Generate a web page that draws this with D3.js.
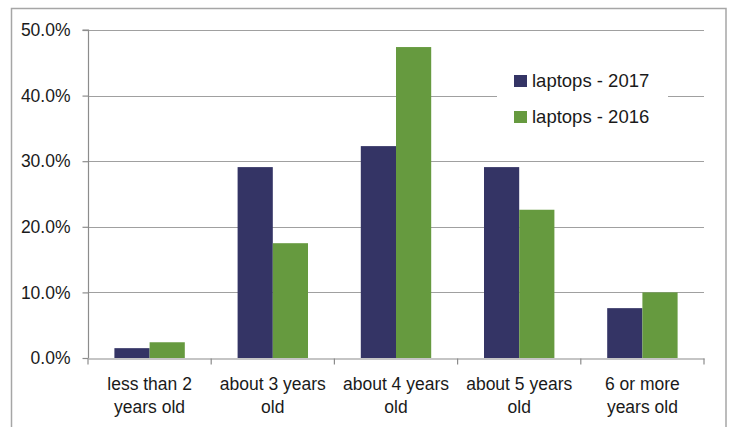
<!DOCTYPE html>
<html><head><meta charset="utf-8">
<script src="https://cdn.jsdelivr.net/npm/d3@7"></script>
<style>body{margin:0;background:#fff;}svg{display:block;}</style>
</head><body>
<script>
const categories = [["less than 2","years old"],["about 3 years","old"],["about 4 years","old"],["about 5 years","old"],["6 or more","years old"]];
const categoryKeys = ["lt2","y3","y4","y5","y6"];
const seriesNames = ["laptops - 2017","laptops - 2016"];
const values2017 = [0.015, 0.291, 0.323, 0.291, 0.076];
const values2016 = [0.024, 0.175, 0.474, 0.226, 0.100];
const colors = ["#343465", "#669a3f"];
const yTicks = [0, 0.1, 0.2, 0.3, 0.4, 0.5];

(function () {
const W = 732, H = 427;
const svg = d3.select("body").append("svg").attr("width", W).attr("height", H);
const font = "Liberation Sans, Arial, sans-serif";

// outer chart border
svg.append("rect").attr("x", 11.5).attr("y", 8.5).attr("width", 714.5).attr("height", 440)
  .attr("fill", "none").attr("stroke", "#a6a6a6").attr("stroke-width", 1.5);

const pLeft = 88, pRight = 704, pTop = 30, pBottom = 358;
const x = d3.scaleBand().domain(categoryKeys).range([pLeft, pRight]).paddingInner(0).paddingOuter(0);
const y = d3.scaleLinear().domain([0, 0.5]).range([pBottom, pTop]);
const bw = x.bandwidth() / 3.5;
const x1 = d3.scaleBand().domain([0, 1]).range([0.75 * bw, 2.75 * bw]);

// gridlines
svg.append("g").selectAll("line").data(yTicks.filter(d => d > 0)).join("line")
  .attr("x1", pLeft).attr("x2", pRight).attr("y1", d => Math.round(y(d)) + 0.5).attr("y2", d => Math.round(y(d)) + 0.5)
  .attr("stroke", "#a0a0a0").attr("stroke-width", 1.2);

// legend background (covers gridline)
svg.append("rect").attr("x", 497).attr("y", 62).attr("width", 171).attr("height", 74).attr("fill", "#fff");

// bars
const series = [values2017, values2016];
series.forEach((vals, si) => {
  svg.append("g").selectAll("rect").data(vals).join("rect")
    .attr("x", (d, i) => x(categoryKeys[i]) + x1(si))
    .attr("width", x1.bandwidth())
    .attr("y", d => y(d))
    .attr("height", d => y(0) - y(d))
    .attr("fill", colors[si]);
});

// y axis
const yAxis = d3.axisLeft(y).tickValues(yTicks).tickFormat(d3.format(".1%")).tickSize(6).tickPadding(12);
const ya = svg.append("g").attr("transform", `translate(${pLeft + 0.5},0)`).call(yAxis);
ya.selectAll("path,line").attr("stroke", "#8c8c8c").attr("stroke-width", 1.2);
ya.select(".domain").attr("d", `M-6,${pTop}H0V${pBottom}`);
ya.selectAll("text").attr("font-family", font).attr("font-size", 17.5).attr("fill", "#1a1a1a");

// x axis
const xAxis = d3.axisBottom(x).tickValues([]).tickSizeOuter(0);
const xa = svg.append("g").attr("transform", `translate(0,${pBottom + 0.5})`).call(xAxis);
xa.select(".domain").attr("stroke", "#8c8c8c").attr("stroke-width", 1.2);
const tickPos = categoryKeys.map(k => x(k)).concat([pRight]);
xa.selectAll("line.tk").data(tickPos).join("line").attr("class", "tk")
  .attr("x1", d => d).attr("x2", d => d).attr("y1", 0).attr("y2", 6)
  .attr("stroke", "#8c8c8c").attr("stroke-width", 1.2);

const lbl = svg.append("g").selectAll("text").data(categories).join("text")
  .attr("x", (d, i) => x(categoryKeys[i]) + x.bandwidth() / 2)
  .attr("y", 390)
  .attr("text-anchor", "middle").attr("font-family", font).attr("font-size", 17.5).attr("fill", "#1a1a1a");
lbl.selectAll("tspan").data(d => d).join("tspan")
  .attr("x", function() { return d3.select(this.parentNode).attr("x"); })
  .attr("dy", (d, i) => i === 0 ? 0 : 23).text(d => d);

// legend
const lg = svg.append("g").selectAll("g").data(seriesNames).join("g")
  .attr("transform", (d, i) => `translate(514,${75 + i * 36})`);
lg.append("rect").attr("width", 13).attr("height", 12).attr("fill", (d, i) => colors[i]);
lg.append("text").attr("x", 18).attr("y", 12).attr("font-family", font).attr("font-size", 18.5)
  .attr("fill", "#1a1a1a").text(d => d);
})();
</script>
</body></html>
